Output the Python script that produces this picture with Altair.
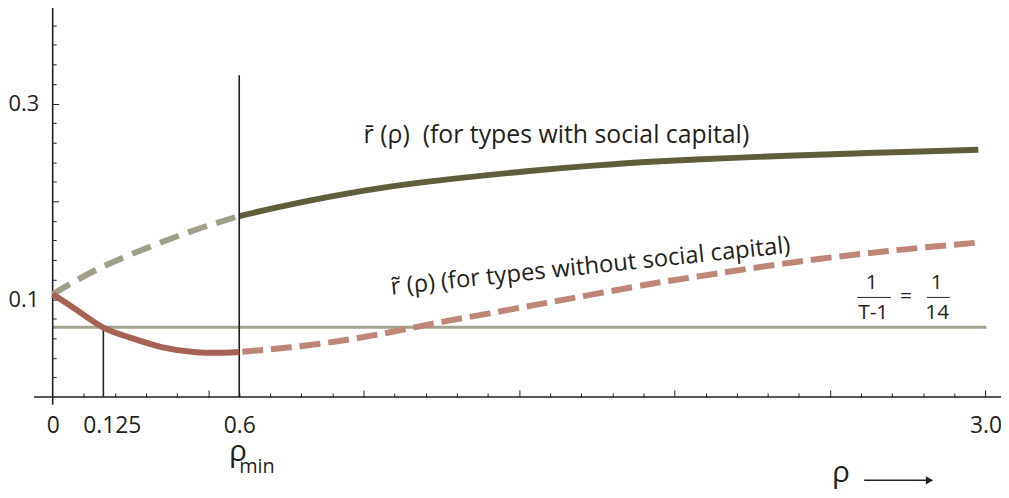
import json
import altair as alt
import pandas as pd

# ---------------- values ----------------
# r-bar (types with social capital): dashed part (rho < rho_min) and solid part
green_dash_x = [0.0, 0.14, 0.30, 0.46, 0.60]
green_dash_y = [0.105, 0.130, 0.152, 0.171, 0.185]
green_solid_x = [0.60, 0.794, 1.007, 1.215, 1.524, 1.738, 1.939, 2.153, 2.364, 2.578, 2.792, 2.977]
green_solid_y = [0.185, 0.1987, 0.2112, 0.2205, 0.2308, 0.2366, 0.2408, 0.244, 0.2467, 0.249, 0.251, 0.2528]

# r-tilde (types without social capital): solid part and dashed part
red_solid_x = [0.0, 0.086, 0.163, 0.246, 0.35, 0.46, 0.55, 0.60]
red_solid_y = [0.105, 0.087, 0.071, 0.061, 0.051, 0.0458, 0.0452, 0.046]
red_dash_x = [0.61, 0.757, 0.917, 1.077, 1.236, 1.396, 1.556, 1.716,
              1.907, 2.07, 2.39, 2.71, 2.98]
red_dash_y = [0.0462, 0.0505, 0.057, 0.0657, 0.0758, 0.085, 0.0944,
              0.1036, 0.1147, 0.123, 0.138, 0.150, 0.158]

# horizontal level 1/(T-1) = 1/14
level_x = [0.0, 3.003]
level_y = 0.0714

# vertical markers: crossing point and rho_min
vline_x = [0.163, 0.6]
vline_top = [0.0714, 0.329]

# axis ticks and labels
x_minor = [0.1, 0.2, 0.3, 0.4, 0.6, 0.7, 0.8, 0.9, 1.1, 1.2, 1.3, 1.4, 1.6, 1.7,
           1.8, 1.9, 2.1, 2.2, 2.3, 2.4, 2.6, 2.7, 2.8, 2.9]
x_major = [0.5, 1.0, 1.5, 2.0, 2.5, 3.0]
x_label_pos = [0.0, 0.19, 0.6, 3.0]
x_label_text = ["0", "0.125", "0.6", "3.0"]
y_minor = [0.02, 0.04, 0.06, 0.08, 0.12, 0.14, 0.16, 0.18, 0.22, 0.24, 0.26,
           0.28, 0.32, 0.34, 0.36, 0.38]
y_major = [0.1, 0.2, 0.3]
y_label_pos = [0.1, 0.3]

x_axis_span = [-0.06, 3.06]
y_axis_span = [-0.008, 0.40]

# ---------------- layout / style ----------------
W, H = 955, 387
xs = alt.Scale(domain=[0, 3.05], nice=False, zero=False)
ys = alt.Scale(domain=[0, 0.393], nice=False, zero=False)
FONT = "Open Sans"
INK = "#231f20"


def xy(df_x, df_y):
    return pd.DataFrame({"x": df_x, "y": df_y})


def curve(xv, yv, color, width, dash=None):
    kw = dict(color=color, strokeWidth=width, interpolate="natural", strokeCap="butt")
    if dash:
        kw["strokeDash"] = dash
    return alt.Chart(xy(xv, yv)).mark_line(**kw).encode(
        x=alt.X("x:Q", scale=xs, axis=None),
        y=alt.Y("y:Q", scale=ys, axis=None),
    )


x_ticks = sorted(x_minor + x_major)
y_ticks = sorted(y_minor + y_major)

# level line carries the tick-only axes (ticks pointing inwards)
level = alt.Chart(pd.DataFrame({"x": [level_x[0]], "x2": [level_x[1]], "y": [level_y]})).mark_rule(
    color="#a3a38e", strokeWidth=3
).encode(
    x=alt.X("x:Q", scale=xs, axis=alt.Axis(
        orient="top", offset=-H, labels=False, domain=False, grid=False,
        values=x_ticks, tickColor=INK, tickWidth=1, title=None,
        tickSize={"condition": {"test": f"indexof({json.dumps(x_major)}, datum.value) >= 0", "value": 7}, "value": 4},
    )),
    x2="x2:Q",
    y=alt.Y("y:Q", scale=ys, axis=alt.Axis(
        orient="right", offset=-W, labels=False, domain=False, grid=False,
        values=y_ticks, tickColor=INK, tickWidth=1, title=None,
        tickSize={"condition": {"test": f"indexof({json.dumps(y_major)}, datum.value) >= 0", "value": 6}, "value": 3.5},
    )),
)

label_expr = " : ".join(
    f"datum.value == {p} ? '{t}'" for p, t in zip(x_label_pos, x_label_text)
) + " : ''"

green_solid = alt.Chart(xy(green_solid_x, green_solid_y)).mark_line(
    color="#5e5e3a", strokeWidth=6, interpolate="natural", strokeCap="butt"
).encode(
    x=alt.X("x:Q", scale=xs, axis=alt.Axis(
        orient="bottom", values=x_label_pos, labelExpr=label_expr, ticks=False, tickSize=0,
        domain=False, grid=False, labelPadding=18, labelFont=FONT, labelFontSize=23,
        labelColor=INK, labelFlush=False, title=None,
    )),
    y=alt.Y("y:Q", scale=ys, axis=alt.Axis(
        orient="left", values=y_label_pos, format=".1f", ticks=False, tickSize=0,
        domain=False, grid=False, labelPadding=14, labelFont=FONT, labelFontSize=22,
        labelColor=INK, title=None,
    )),
)

green_dash = curve(green_dash_x, green_dash_y, "#a0a08a", 6, [20, 10])
red_solid = curve(red_solid_x, red_solid_y, "#a66254", 6)
red_dash = curve(red_dash_x, red_dash_y, "#bd8676", 6, [21, 8])

vl = pd.DataFrame({"x": vline_x, "y": [0, 0], "y2": vline_top, "c": ["a", "b"]})
vlines = alt.Chart(vl).mark_rule(strokeWidth=1.6).encode(
    x=alt.X("x:Q", scale=xs, axis=None),
    y=alt.Y("y:Q", scale=ys, axis=None),
    y2="y2:Q",
    color=alt.Color("c:N", scale=alt.Scale(domain=["a", "b"], range=["#2d1a26", "#1e1e1e"]), legend=None),
)

axis_x_line = alt.Chart(pd.DataFrame({"x": [x_axis_span[0]], "x2": [x_axis_span[1]], "y": [0.0]})).mark_rule(
    color=INK, strokeWidth=1.6
).encode(x=alt.X("x:Q", scale=xs, axis=None), x2="x2:Q", y=alt.Y("y:Q", scale=ys, axis=None))

axis_y_line = alt.Chart(pd.DataFrame({"x": [0.0], "y": [y_axis_span[0]], "y2": [y_axis_span[1]]})).mark_rule(
    color=INK, strokeWidth=1.6
).encode(x=alt.X("x:Q", scale=xs, axis=None), y=alt.Y("y:Q", scale=ys, axis=None), y2="y2:Q")


def text(df, **kw):
    base = dict(font=FONT, color=INK)
    base.update(kw)
    return alt.Chart(df).mark_text(**base).encode(
        x=alt.X("x:Q", scale=xs, axis=None),
        y=alt.Y("y:Q", scale=ys, axis=None),
        text="t:N",
    )


NB = "\u00a0"
lab_top = text(pd.DataFrame({"x": [1.0], "y": [0.26],
                             "t": ["r\u0304" + NB + "(ρ)" + NB + NB + "(for types with social capital)"]}),
               fontSize=25, align="left", baseline="alphabetic")
lab_rot = text(pd.DataFrame({"x": [1.09], "y": [0.1046],
                             "t": ["r\u0303" + NB + "(ρ) (for types without social capital)"]}),
               fontSize=24, align="left", baseline="alphabetic", angle=354)

frac_txt = text(pd.DataFrame({
    "x": [2.634, 2.639, 2.744, 2.843, 2.845],
    "y": [0.1162, 0.0858, 0.1020, 0.1162, 0.0858],
    "t": ["1", "T-1", "=", "1", "14"],
}), fontSize=21, align="center", baseline="middle")
frac_bars = alt.Chart(pd.DataFrame({"x": [2.588, 2.812], "x2": [2.696, 2.885], "y": [0.1018, 0.1018]})).mark_rule(
    color=INK, strokeWidth=1
).encode(x=alt.X("x:Q", scale=xs, axis=None), x2="x2:Q", y=alt.Y("y:Q", scale=ys, axis=None))

rho_min = text(pd.DataFrame({"x": [0.596], "y": [-0.065], "t": ["ρ"]}),
               fontSize=30, align="center", baseline="alphabetic")
rho_min_sub = text(pd.DataFrame({"x": [0.60], "y": [-0.078], "t": ["min"]}),
                   fontSize=20, align="left", baseline="alphabetic")
rho_lab = text(pd.DataFrame({"x": [2.535], "y": [-0.087], "t": ["ρ"]}),
               fontSize=30, align="center", baseline="alphabetic")
arrow_line = alt.Chart(pd.DataFrame({"x": [2.61], "x2": [2.815], "y": [-0.0853]})).mark_rule(
    color=INK, strokeWidth=1.5
).encode(x=alt.X("x:Q", scale=xs, axis=None), x2="x2:Q", y=alt.Y("y:Q", scale=ys, axis=None))
arrow_head = alt.Chart(pd.DataFrame({"x": [2.82], "y": [-0.0853]})).mark_point(
    shape="triangle-right", filled=True, size=70, color=INK, opacity=1
).encode(x=alt.X("x:Q", scale=xs, axis=None), y=alt.Y("y:Q", scale=ys, axis=None))

chart = alt.layer(
    level, green_solid, axis_x_line, axis_y_line, vlines,
    green_dash, red_solid, red_dash,
    lab_top, lab_rot, frac_txt, frac_bars,
    rho_min, rho_min_sub, rho_lab, arrow_line, arrow_head,
).resolve_axis(x="independent", y="independent").properties(
    width=W, height=H,
    autosize=alt.AutoSizeParams(type="none"),
    padding={"left": 45, "top": 3, "right": 0, "bottom": 92},
).configure_view(stroke=None)

chart.save("out.html", embed_options={"renderer": "svg", "actions": False})
